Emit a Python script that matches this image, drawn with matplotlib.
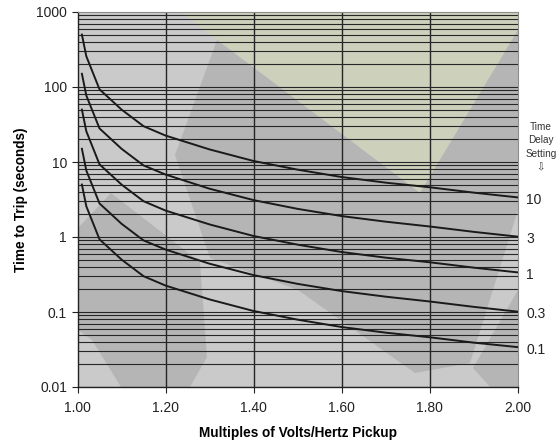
import matplotlib
matplotlib.use("Agg")
import matplotlib.pyplot as plt
from matplotlib.patches import Polygon

plt.rcParams['font.family'] = ['Liberation Sans', 'DejaVu Sans']

# ── data ──────────────────────────────────────────────────────────────────────
multiples = [1.01, 1.02, 1.05, 1.10, 1.15, 1.20, 1.30, 1.40, 1.50, 1.60, 1.70, 1.80, 1.90, 2.00]

td_10 = [500, 257, 93, 50, 30, 22.5, 14.7, 10.3, 7.9, 6.3, 5.3, 4.6, 3.9, 3.37]
td_3 = [150, 77, 28, 15, 9.0, 6.8, 4.4, 3.1, 2.37, 1.9, 1.6, 1.38, 1.17, 1.01]
td_1 = [50, 25.7, 9.3, 5.0, 3.0, 2.25, 1.47, 1.03, 0.79, 0.63, 0.53, 0.46, 0.39, 0.337]
td_03 = [15, 7.7, 2.8, 1.5, 0.9, 0.68, 0.44, 0.31, 0.237, 0.19, 0.16, 0.138, 0.117, 0.101]
td_01 = [5, 2.57, 0.93, 0.5, 0.3, 0.225, 0.147, 0.103, 0.079, 0.063, 0.053, 0.046, 0.039, 0.034]

curves = [td_10, td_3, td_1, td_03, td_01]
curve_labels = ['10', '3', '1', '0.3', '0.1']

x_ticks = [1.0, 1.2, 1.4, 1.6, 1.8, 2.0]
x_ticklabels = ['1.00', '1.20', '1.40', '1.60', '1.80', '2.00']
y_ticks = [0.01, 0.1, 1, 10, 100, 1000]
y_ticklabels = ['0.01', '0.1', '1', '10', '100', '1000']

W, H = 556, 444
fig = plt.figure(figsize=(W / 100, H / 100), dpi=100)
ax = fig.add_axes([77.5 / W, 1 - 387 / H, (518 - 77.5) / W, (387 - 12) / H])
ax.set_facecolor('#cacaca')


def px(points):
    # figure pixel coords (origin top-left) -> figure fraction
    return [(x / W, 1 - y / H) for x, y in points]


def shade(points, color):
    ax.add_patch(Polygon(px(points), closed=True, transform=fig.transFigure,
                         facecolor=color, edgecolor='none', zorder=0))


# faint watermark shapes behind the grid
shade([(180, 12), (518, 12), (518, 30), (420, 193)], '#cdd0bb')
shade([(217, 40), (420, 193), (518, 30), (518, 210), (470, 363), (415, 373),
       (298, 290), (210, 258), (175, 155)], '#b5b5b5')
shade([(78, 228), (111, 193), (200, 262), (207, 357), (190, 387), (121, 387),
       (92, 340), (78, 330)], '#b5b5b5')
shade([(518, 290), (518, 387), (490, 387), (473, 368)], '#b5b5b5')

ax.set_yscale('log')
ax.set_xlim(1.0, 2.0)
ax.set_ylim(0.01, 1000)

# horizontal grid at every log subdivision, vertical at the major x ticks
for dec in [0.01, 0.1, 1, 10, 100]:
    for k in range(1, 10):
        ax.axhline(dec * k, color='#262626', lw=0.8, zorder=1)
for xv in x_ticks[1:-1]:
    ax.axvline(xv, color='#262626', lw=1.0, zorder=1)

for vals, lab in zip(curves, curve_labels):
    ax.plot(multiples, vals, color='#1a1a1a', lw=1.4, zorder=3)
    ax.annotate(lab, xy=(2.0, vals[-1]), xytext=(6, -2), textcoords='offset points',
                ha='left', va='center', fontsize=10, color='#222222',
                annotation_clip=False)

fig.text(541 / W, 1 - 147 / H, 'Time\nDelay\nSetting\n\u21e9',
         ha='center', va='center', fontsize=7.2, color='#333333', linespacing=1.45)

ax.set_xticks(x_ticks)
ax.set_xticklabels(x_ticklabels)
ax.set_yticks(y_ticks)
ax.set_yticklabels(y_ticklabels)
ax.minorticks_off()
ax.tick_params(axis='both', labelsize=10, colors='#222222', length=4, width=0.8,
               direction='out')
ax.tick_params(axis='x', pad=6)

for side in ['top', 'right']:
    ax.spines[side].set_color('#8c8c8c')
    ax.spines[side].set_linewidth(0.8)
for side in ['left', 'bottom']:
    ax.spines[side].set_color('#222222')
    ax.spines[side].set_linewidth(1.0)

ax.set_xlabel('Multiples of Volts/Hertz Pickup', fontsize=9.8, fontweight='bold',
              labelpad=8)
ax.set_ylabel('Time to Trip (seconds)', fontsize=9.8, fontweight='bold', labelpad=6)

fig.savefig('out.png', dpi=100)
